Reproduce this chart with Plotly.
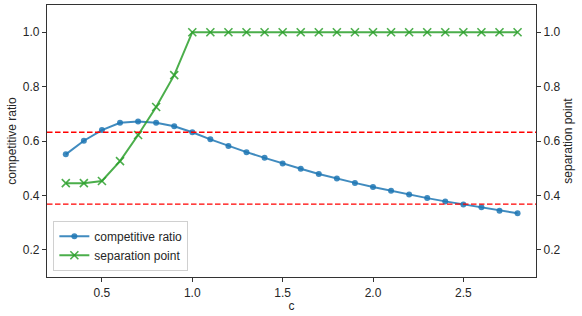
import plotly.graph_objects as go

c_values = [0.3, 0.4, 0.5, 0.6, 0.7, 0.8, 0.9, 1.0, 1.1, 1.2, 1.3, 1.4, 1.5,
            1.6, 1.7, 1.8, 1.9, 2.0, 2.1, 2.2, 2.3, 2.4, 2.5, 2.6, 2.7, 2.8]
competitive_ratio = [0.551, 0.601, 0.640, 0.667, 0.672, 0.667, 0.654, 0.632,
                     0.606, 0.582, 0.559, 0.538, 0.517, 0.498, 0.479, 0.462,
                     0.446, 0.431, 0.417, 0.403, 0.390, 0.378, 0.367, 0.356,
                     0.344, 0.334]
separation_point = [0.445, 0.445, 0.453, 0.526, 0.622, 0.725, 0.842, 1.0,
                    1.0, 1.0, 1.0, 1.0, 1.0, 1.0, 1.0, 1.0, 1.0, 1.0, 1.0,
                    1.0, 1.0, 1.0, 1.0, 1.0, 1.0, 1.0]
reference_lines = [0.632, 0.368]
tick_vals = [0.2, 0.4, 0.6, 0.8, 1.0]
x_ticks = [0.5, 1.0, 1.5, 2.0, 2.5]

FONT = "Liberation Sans, Arial, sans-serif"
TXT = "#262626"
SPINE = "#333333"

fig = go.Figure()
fig.add_trace(go.Scatter(
    x=c_values, y=competitive_ratio, mode="lines+markers",
    name="competitive ratio",
    line=dict(color="rgba(31,119,180,0.85)", width=2),
    marker=dict(symbol="circle", size=6, color="rgba(31,119,180,0.85)"),
    yaxis="y"))
fig.add_trace(go.Scatter(
    x=c_values, y=separation_point, mode="lines+markers",
    name="separation point",
    line=dict(color="rgba(44,160,44,0.85)", width=2),
    marker=dict(symbol="x-thin", size=8,
                line=dict(width=1.6, color="rgba(44,160,44,0.85)"),
                color="rgba(44,160,44,0.85)"),
    yaxis="y2"))

for v in reference_lines:
    fig.add_hline(y=v, line=dict(color="#ff0000", width=1.4, dash="5.5px,2.5px"))

axis_common = dict(
    showgrid=False, zeroline=False, showline=True, linecolor=SPINE, linewidth=1.2,
    ticks="outside", ticklen=4, tickwidth=1, tickcolor=SPINE, automargin=False,
    tickfont=dict(family=FONT, size=12, color=TXT),
)

fig.update_layout(
    width=582, height=316,
    margin=dict(l=46.5, r=46, t=5, b=39, autoexpand=False),
    paper_bgcolor="white", plot_bgcolor="white",
    font=dict(family=FONT, size=12, color=TXT),
    xaxis=dict(range=[0.196, 2.902], tickvals=x_ticks,
               ticktext=[f"{t:.1f}" for t in x_ticks], mirror=True,
               title=dict(text="c", font=dict(family=FONT, size=12, color=TXT), standoff=0),
               **axis_common),
    yaxis=dict(range=[0.1, 1.1], tickvals=tick_vals,
               ticktext=[f"{t:.1f}" for t in tick_vals],
               title=dict(text="competitive ratio", font=dict(family=FONT, size=12, color=TXT), standoff=3),
               **axis_common),
    yaxis2=dict(range=[0.1, 1.1], tickvals=tick_vals, overlaying="y", side="right",
                ticktext=[f"{t:.1f}" for t in tick_vals],
                title=dict(text="separation point", font=dict(family=FONT, size=12, color=TXT), standoff=2),
                **axis_common),
    legend=dict(x=0.013, y=0.023, xanchor="left", yanchor="bottom",
                bordercolor="#d0d0d0", borderwidth=1, bgcolor="rgba(255,255,255,0.8)",
                font=dict(family=FONT, size=12, color=TXT), itemwidth=30,
                tracegroupgap=0),
    showlegend=True,
)

fig.write_html("out.html", config={"displayModeBar": False},
               post_script="document.body.style.margin='0';")
